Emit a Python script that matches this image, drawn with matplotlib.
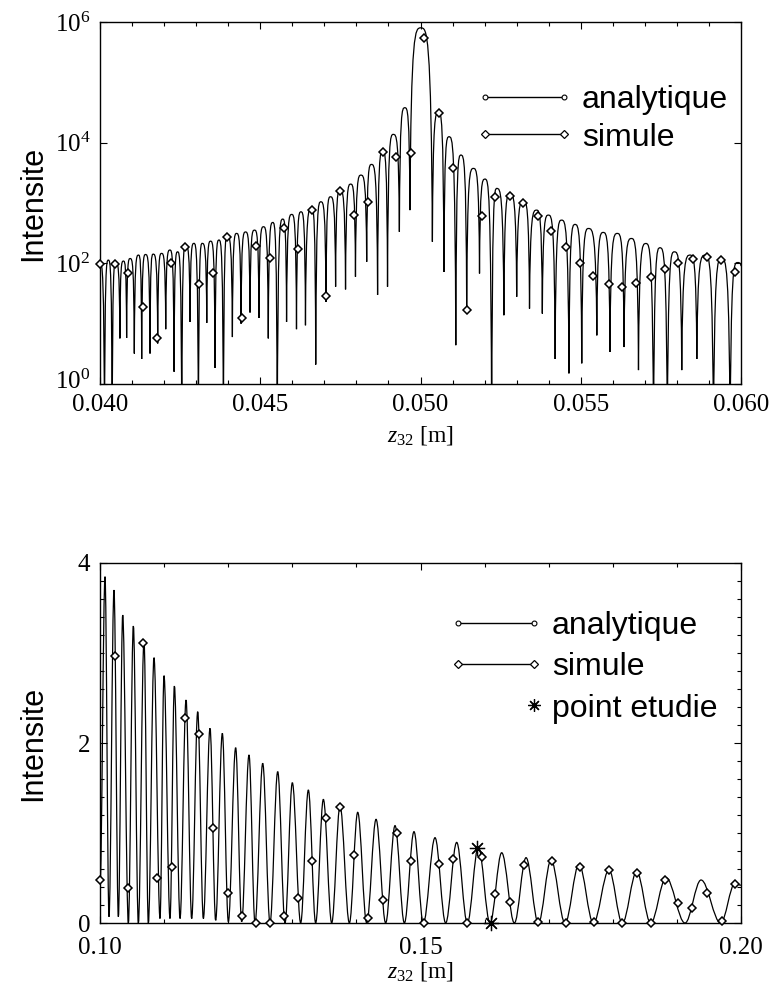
import matplotlib
matplotlib.use("Agg")
import matplotlib.pyplot as plt
from matplotlib.lines import Line2D
from matplotlib.path import Path
from matplotlib.patches import PathPatch
from matplotlib.transforms import ScaledTranslation
from matplotlib.ticker import MultipleLocator, FixedLocator, FormatStrFormatter, NullLocator

plt.rcParams["font.family"] = "Liberation Serif"
plt.rcParams["mathtext.fontset"] = "custom"
plt.rcParams["mathtext.rm"] = "Liberation Serif"
plt.rcParams["mathtext.it"] = "Liberation Serif:italic"
SANS = "Liberation Sans"

# --- top panel: around the focus, log intensity (alternating minima / maxima) ---
top_curve_z = [
    0.04000, 0.04014, 0.04026, 0.04038, 0.04049, 0.04062, 0.04073, 0.04083, 0.04094, 0.04107,
    0.04120, 0.04130, 0.04142, 0.04156, 0.04166, 0.04180, 0.04192, 0.04205, 0.04218, 0.04231,
    0.04242, 0.04255, 0.04267, 0.04281, 0.04293, 0.04307, 0.04319, 0.04333, 0.04345, 0.04359,
    0.04371, 0.04385, 0.04397, 0.04413, 0.04426, 0.04440, 0.04454, 0.04468, 0.04482, 0.04496,
    0.04510, 0.04525, 0.04539, 0.04553, 0.04570, 0.04582, 0.04598, 0.04613, 0.04627, 0.04641,
    0.04660, 0.04673, 0.04689, 0.04705, 0.04719, 0.04735, 0.04749, 0.04766, 0.04782, 0.04797,
    0.04814, 0.04832, 0.04847, 0.04866, 0.04882, 0.04897, 0.04915, 0.04934, 0.04951, 0.04967,
    0.05001, 0.05037,
    0.05056, 0.05073, 0.05089, 0.05110, 0.05126, 0.05144, 0.05165, 0.05184, 0.05201, 0.05222,
    0.05238, 0.05260, 0.05279, 0.05300, 0.05321, 0.05340, 0.05362, 0.05380, 0.05399, 0.05420,
    0.05440, 0.05463, 0.05482, 0.05503, 0.05524, 0.05550, 0.05570, 0.05591, 0.05614, 0.05635,
    0.05658, 0.05680, 0.05703, 0.05727, 0.05747, 0.05770, 0.05792, 0.05815, 0.05841, 0.05862,
    0.05888, 0.05914, 0.05939, 0.05966, 0.05989, 0.06000,
]
top_curve_i = [
    100, 0.1, 113, 0.1, 105, 5.7, 109, 5.8, 120, 3.2,
    137, 2.6, 140, 3.2, 142, 4.7, 146, 8.1, 166, 1.6,
    155, 0.1, 200, 10.7, 214, 0.1, 214, 10.3, 233, 1.85,
    243, 0.1, 286, 6.0, 313, 10, 331, 15.3, 355, 12.5,
    404, 5.7, 475, 0.1, 541, 10.7, 646, 8.1, 714, 9.4,
    834, 2.1, 1047, 23, 1268, 41, 1637, 37, 2056, 60,
    2897, 106, 4355, 30, 7244, 41, 13710, 333, 37930, 762,
    8.0e5, 228,
    31770, 72, 12530, 4.4, 6223, 16.7, 3741, 68, 2489, 0.1,
    1742, 13.8, 1439, 27.9, 1089, 17.8, 762, 14.7, 630, 2.6,
    520, 1.5, 441, 2.2, 378, 6.4, 325, 3.4, 313, 4.1,
    258, 1.7, 213, 0.1, 181, 0.1, 155, 1.7, 137, 2.6,
    137, 0.1, 120, 0.1, 103, 90,
]
top_sim_z = [
    0.04000, 0.04047, 0.04088, 0.04135, 0.04177, 0.04222, 0.04265, 0.04310, 0.04354, 0.04397,
    0.04442, 0.04486, 0.04530, 0.04574, 0.04617, 0.04660, 0.04705, 0.04749, 0.04793, 0.04837,
    0.04882, 0.04923, 0.04969, 0.05012, 0.05058, 0.05102, 0.05144, 0.05191, 0.05232, 0.05279,
    0.05321, 0.05368, 0.05407, 0.05453, 0.05498, 0.05539, 0.05588, 0.05630, 0.05672, 0.05718,
    0.05763, 0.05804, 0.05849, 0.05893, 0.05938, 0.05981,
]
top_sim_i = [
    99, 97, 70, 19, 5.9, 103, 188, 46, 68, 275,
    12.2, 193, 124, 388, 176, 762, 28.9, 1596, 630, 1047,
    7080, 5830, 6810, 5.36e5, 30550, 3837, 16.7, 614, 1268, 1318,
    984, 614, 342, 188, 103, 62, 46, 41, 48, 60,
    82, 103, 120, 128, 113, 72,
]

# --- bottom panel: far field, linear intensity (alternating minima / maxima) ---
bot_curve_z = [
    0.10000, 0.10078, 0.10140, 0.10218, 0.10286, 0.10354, 0.10442, 0.10520, 0.10598, 0.10686,
    0.10754, 0.10842, 0.10936, 0.10998, 0.11092, 0.11160, 0.11248, 0.11342, 0.11430, 0.11524,
    0.11612, 0.11716, 0.11804, 0.11908, 0.12002, 0.12116, 0.12210, 0.12324, 0.12418, 0.12538,
    0.12652, 0.12772, 0.12886, 0.13000, 0.13130, 0.13250, 0.13364, 0.13484, 0.13614, 0.13744,
    0.13890, 0.14020, 0.14160, 0.14306, 0.14456, 0.14602, 0.14748, 0.14898, 0.15044, 0.15226,
    0.15392, 0.15564, 0.15730, 0.15902, 0.16084, 0.16266, 0.16464, 0.16646, 0.16838, 0.17036,
    0.17254, 0.17472, 0.17696, 0.17940, 0.18148, 0.18372, 0.18590, 0.18830, 0.19126, 0.19376,
    0.19682, 0.19906, 0.20000,
]
bot_curve_i = [
    0.40, 3.848, 0.07, 3.70, 0.07, 3.422, 0.0, 3.30, 0.0, 3.145,
    0.0, 2.948, 0.05, 2.748, 0.05, 2.633, 0.05, 2.478, 0.05, 2.348,
    0.05, 2.163, 0.03, 2.107, 0.015, 1.948, 0.015, 1.867, 0.0, 1.774,
    0.0, 1.682, 0.0, 1.559, 0.0, 1.478, 0.0, 1.374, 0.0, 1.304,
    0.0, 1.230, 0.0, 1.152, 0.0, 1.082, 0.0, 1.015, 0.0, 0.948,
    0.0, 0.896, 0.0, 0.848, 0.0, 0.781, 0.0, 0.726, 0.0, 0.700,
    0.0, 0.652, 0.0, 0.589, 0.0, 0.570, 0.0, 0.504, 0.0, 0.478,
    0.0, 0.441, 0.42,
]
bot_sim_z = [
    0.10000, 0.10234, 0.10442, 0.10676, 0.10884, 0.11118, 0.11326, 0.11550, 0.11768, 0.11992,
    0.12210, 0.12434, 0.12652, 0.12870, 0.13084, 0.13302, 0.13526, 0.13744, 0.13968, 0.14186,
    0.14410, 0.14628, 0.14846, 0.15060, 0.15288, 0.15512, 0.15720, 0.15954, 0.16162, 0.16396,
    0.16614, 0.16838, 0.17046, 0.17264, 0.17488, 0.17706, 0.17940, 0.18148, 0.18372, 0.18590,
    0.18814, 0.19022, 0.19240, 0.19464, 0.19698, 0.19906,
]
bot_sim_i = [
    0.478, 2.97, 0.385, 3.115, 0.496, 0.619, 2.282, 2.10, 1.052, 0.337,
    0.078, 0.004, 0.004, 0.078, 0.282, 0.689, 1.163, 1.293, 0.756, 0.059,
    0.256, 1.004, 0.689, 0.0, 0.652, 0.711, 0.0, 0.737, 0.319, 0.237,
    0.644, 0.01, 0.689, 0.0, 0.626, 0.01, 0.589, 0.0, 0.552, 0.0,
    0.478, 0.226, 0.17, 0.33, 0.022, 0.433,
]
star_z = [0.15886, 0.16094]
star_i = [0.83, 0.0]


def lobes(z, v, k_min, k_max, flat_min):
    """Bezier path through alternating extrema: k_* = handle length at minima / maxima."""
    verts, codes = [(z[0], v[0])], [Path.MOVETO]
    for z0, v0, z1, v1 in zip(z[:-1], v[:-1], z[1:], v[1:]):
        dz = z1 - z0
        hi = max(v0, v1)
        k0, k1 = (k_min, k_max) if v1 > v0 else (k_max, k_min)
        y0 = v0 if (flat_min or v0 >= v1) else hi
        y1 = v1 if (flat_min or v1 >= v0) else hi
        verts += [(z0 + k0 * dz, y0), (z1 - k1 * dz, y1), (z1, v1)]
        codes += [Path.CURVE4] * 3
    return Path(verts, codes)


fig = plt.figure(figsize=(7.7, 9.91), dpi=100)
ax1 = fig.add_axes([0.1299, 0.6125, 0.8325, 0.3653])
ax2 = fig.add_axes([0.1299, 0.0686, 0.8325, 0.3633])

diamond = dict(ls="none", marker="D", ms=4.5, mfc="white", mec="black", mew=1.1, clip_on=False, zorder=3)
leg_an = Line2D([], [], color="black", lw=1, marker="o", ms=3.5, mfc="white", mec="black", mew=0.8)
leg_sim = Line2D([], [], color="black", lw=1, marker="D", ms=4.5, mfc="white", mec="black", mew=0.9)
leg_star = Line2D([], [], ls="none", marker=(8, 2, 0), ms=9, color="black", mew=0.9)

# top
ax1.set_yscale("log")
ax1.add_patch(PathPatch(lobes(top_curve_z, top_curve_i, 0.10, 0.52, False),
                        fill=False, ec="black", lw=0.9))
ax1.plot(top_sim_z, top_sim_i, **diamond)
ax1.set_xlim(0.040, 0.060)
ax1.set_ylim(1, 1e6)
ax1.xaxis.set_major_locator(MultipleLocator(0.005))
ax1.xaxis.set_minor_locator(MultipleLocator(0.001))
ax1.xaxis.set_major_formatter(FormatStrFormatter("%.3f"))
ax1.yaxis.set_major_locator(FixedLocator([1, 1e2, 1e4, 1e6]))
ax1.yaxis.set_minor_locator(NullLocator())
ax1.set_xlabel(r"$z_{\mathit{32}}$ [m]", fontsize=17, labelpad=6)
leg1 = ax1.legend([leg_an, leg_sim], ["analytique", "simule"], loc="upper left",
                  bbox_to_anchor=(0.585, 0.826), frameon=False, numpoints=2,
                  prop={"family": SANS, "size": 23}, handlelength=3.1, handletextpad=0.25,
                  labelspacing=0.24, borderpad=0, borderaxespad=0)

# bottom
ax2.add_patch(PathPatch(lobes(bot_curve_z, bot_curve_i, 0.36, 0.36, True),
                        fill=False, ec="black", lw=0.9))
ax2.plot(bot_sim_z, bot_sim_i, **diamond)
ax2.plot(star_z, star_i, ls="none", marker=(8, 2, 0), ms=11, color="black", mew=0.9,
         clip_on=False, zorder=4)
ax2.set_xlim(0.10, 0.20)
ax2.set_ylim(0, 4)
ax2.xaxis.set_major_locator(MultipleLocator(0.05))
ax2.xaxis.set_minor_locator(MultipleLocator(0.01))
ax2.xaxis.set_major_formatter(FormatStrFormatter("%.2f"))
ax2.yaxis.set_major_locator(MultipleLocator(2))
ax2.yaxis.set_minor_locator(MultipleLocator(0.2))
ax2.yaxis.set_major_formatter(FormatStrFormatter("%d"))
ax2.set_xlabel(r"$z_{\mathit{32}}$ [m]", fontsize=17, labelpad=1)
leg2 = ax2.legend([leg_an, leg_sim, leg_star], ["analytique", "simule", "point etudie"],
                  loc="upper left", bbox_to_anchor=(0.543, 0.866), frameon=False, numpoints=2,
                  prop={"family": SANS, "size": 23}, handlelength=3.0, handletextpad=0.25,
                  labelspacing=0.35, borderpad=0, borderaxespad=0)
leg2.get_lines()[2].set_markevery([1])

for ax, lift, xpad in ((ax1, 3, 7), (ax2, 6, 10)):
    ax.set_ylabel("Intensite", family=SANS, fontsize=22)
    ax.yaxis.set_label_coords(-0.081, 0.5)
    ax.tick_params(which="both", direction="in", top=True, right=True, labelsize=18, width=0.8)
    ax.tick_params(which="major", length=5, pad=7)
    ax.tick_params(axis="x", which="major", pad=xpad)
    ax.tick_params(which="minor", length=3)
    for s in ax.spines.values():
        s.set_linewidth(1.0)
    low = ax.get_yticklabels()[0]
    low.set_transform(low.get_transform() + ScaledTranslation(0, lift / 72, fig.dpi_scale_trans))

fig.savefig("out.png", dpi=100)
